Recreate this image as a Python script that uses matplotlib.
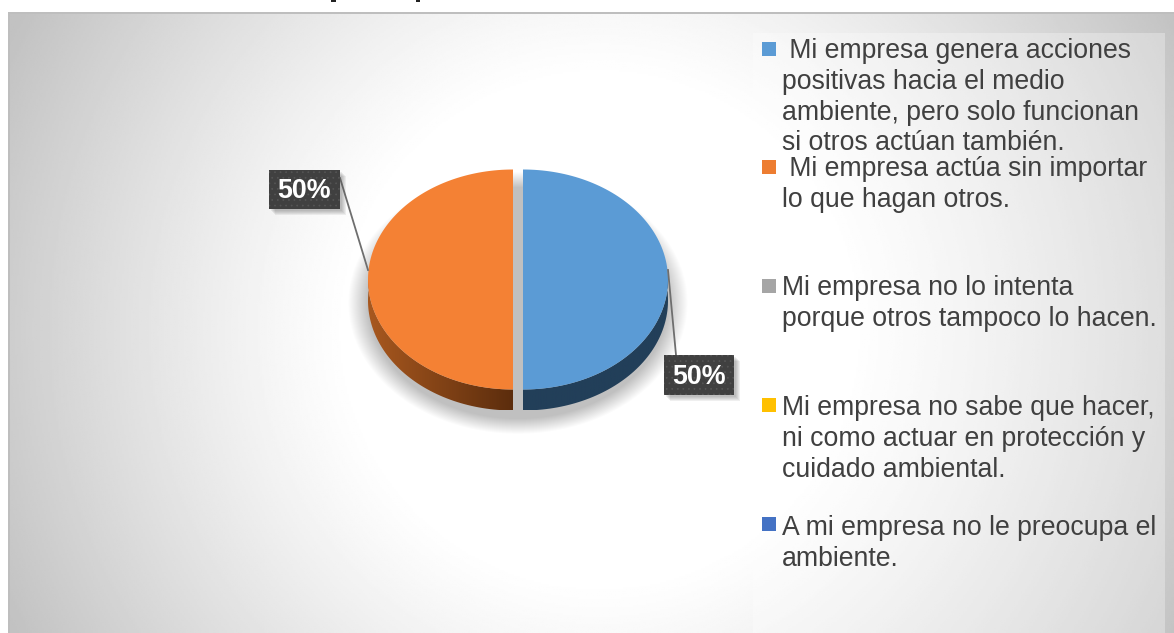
import numpy as np
import matplotlib
matplotlib.use('Agg')
import matplotlib.pyplot as plt
from matplotlib.patches import Rectangle, Polygon

plt.rcParams['font.family'] = ['Liberation Sans', 'DejaVu Sans']
plt.rcParams['hatch.linewidth'] = 0.5

# data
values = [50, 50, 0, 0, 0]
pct_labels = ['50%', '50%']
legend_labels = [
    ' Mi empresa genera acciones\npositivas hacia el medio\nambiente, pero solo funcionan\nsi otros actúan también.',
    ' Mi empresa actúa sin importar\nlo que hagan otros.',
    'Mi empresa no lo intenta\nporque otros tampoco lo hacen.',
    'Mi empresa no sabe que hacer,\nni como actuar en protección y\ncuidado ambiental.',
    'A mi empresa no le preocupa el\nambiente.',
]
colors = ['#5B9BD5', '#ED7D31', '#A5A5A5', '#FFC000', '#4472C4']
top_colors = ['#5B9BD5', '#F48134']

W, H = 1174, 633
fig = plt.figure(figsize=(W / 100, H / 100), dpi=100)
ax = fig.add_axes([0, 0, 1, 1])
ax.set_xlim(0, W)
ax.set_ylim(H, 0)
ax.axis('off')

# bits of the cropped title above the chart
ax.add_patch(Rectangle((331, 0), 5, 2, color='#222222', lw=0))
ax.add_patch(Rectangle((416, 0), 4, 2, color='#222222', lw=0))

# plot area background, radial gradient
x0, x1, y0, y1 = 8, 1174, 13, 633
xx, yy = np.meshgrid(np.linspace(x0, x1, 600), np.linspace(y0, y1, 320))
d = np.sqrt((xx - 600) ** 2 + (yy - 330) ** 2)
shade = 1 - 0.24 * np.clip((d - 250) / 410, 0, 1) ** 1.15
ax.imshow(shade, extent=[x0, x1, y1, y0], cmap='gray', vmin=0, vmax=1, aspect='auto', zorder=0)
ax.add_patch(Rectangle((x0, y0 - 1), x1 - x0, 1.5, color='#BEBEBE', lw=0, zorder=1))
ax.add_patch(Rectangle((x0, y0), 1.5, y1 - y0, color='#BEBEBE', lw=0, zorder=1))

# legend panel, slightly lighter
ax.add_patch(Rectangle((753, 33), 412, 600, color='white', alpha=0.3, lw=0, zorder=1))

cx, cy = 518, 279.5
rx, ry = 145, 110
depth = 21
gap = 5

# soft drop shadow below the pie
sx, sy = np.meshgrid(np.linspace(330, 710, 380), np.linspace(160, 450, 290))
e = np.sqrt(((sx - cx) / 158) ** 2 + ((sy - 303) / 122) ** 2)
rgba = np.zeros(sx.shape + (4,))
rgba[..., 3] = 0.25 * np.clip((1.08 - e) / 0.13, 0, 1)
ax.imshow(rgba, extent=[330, 710, 450, 160], aspect='auto', zorder=2)
ax.set_xlim(0, W)
ax.set_ylim(H, 0)


def half(sign, offset):
    t = np.linspace(-np.pi / 2, np.pi / 2, 120)
    return cx + sign * gap + sign * rx * np.cos(t), cy + offset + ry * np.sin(t)


def side_face(sign, left_col, right_col):
    # extruded rim with a horizontal colour ramp, clipped to the rim outline
    px, py = half(sign, 0)
    outline = np.column_stack([np.concatenate([px, px[::-1]]),
                               np.concatenate([py, py[::-1] + depth])])
    poly = Polygon(outline, transform=ax.transData, lw=0, fc='none', zorder=3)
    ax.add_patch(poly)
    a = np.array(matplotlib.colors.to_rgb(left_col))
    b = np.array(matplotlib.colors.to_rgb(right_col))
    ramp = np.linspace(0, 1, 160)[None, :, None]
    img = a[None, None, :] * (1 - ramp) + b[None, None, :] * ramp
    xl, xr = outline[:, 0].min(), outline[:, 0].max()
    im = ax.imshow(img, extent=[xl, xr, cy + ry + depth, cy], aspect='auto', zorder=3)
    im.set_clip_path(poly)


# pie slices drawn from the values
side_ramps = [('#223F59', '#223F59'), ('#A8581F', '#5C2D0D')]
signs = [1, -1]
for i, v in enumerate(values[:2]):
    s = signs[i]
    px, py = half(s, 0)
    side_face(s, *side_ramps[i])
    ax.add_patch(Polygon(np.column_stack([px, py]), color=top_colors[i], lw=0, zorder=4))
ax.set_xlim(0, W)
ax.set_ylim(H, 0)

# leader lines
ax.plot([668, 676], [270, 355], color='#6E6E6E', lw=1.3, zorder=5)
ax.plot([340, 368], [178, 270], color='#6E6E6E', lw=1.3, zorder=5)

# data labels
boxes = [(664, 355, 70, 40), (269, 170, 71, 39)]
for (bx, by, bw, bh), lab in zip(boxes, pct_labels):
    for k in range(5):
        ax.add_patch(Rectangle((bx + 2 + k, by + 2 + k), bw, bh,
                               color='#555555', alpha=0.09, lw=0, zorder=5))
    ax.add_patch(Rectangle((bx, by), bw, bh, fc='#404040', ec='#555555', hatch='...', lw=0, zorder=6))
    ax.text(bx + bw / 2, by + bh / 2 + 2, lab, color='white', fontsize=19.4, fontweight='bold',
            ha='center', va='center', zorder=7)

# legend
legend_y = [49, 167, 286, 405, 524]
text_y = [38, 156, 275, 395, 515]
for lab, col, y, ty in zip(legend_labels, colors, legend_y, text_y):
    ax.add_patch(Rectangle((762, y - 7), 14, 14, color=col, lw=0, zorder=6))
    ax.text(782, ty, lab, color='#404040', fontsize=19.2, va='top', ha='left',
            linespacing=1.24, zorder=7)

fig.savefig('out.png', dpi=100)
